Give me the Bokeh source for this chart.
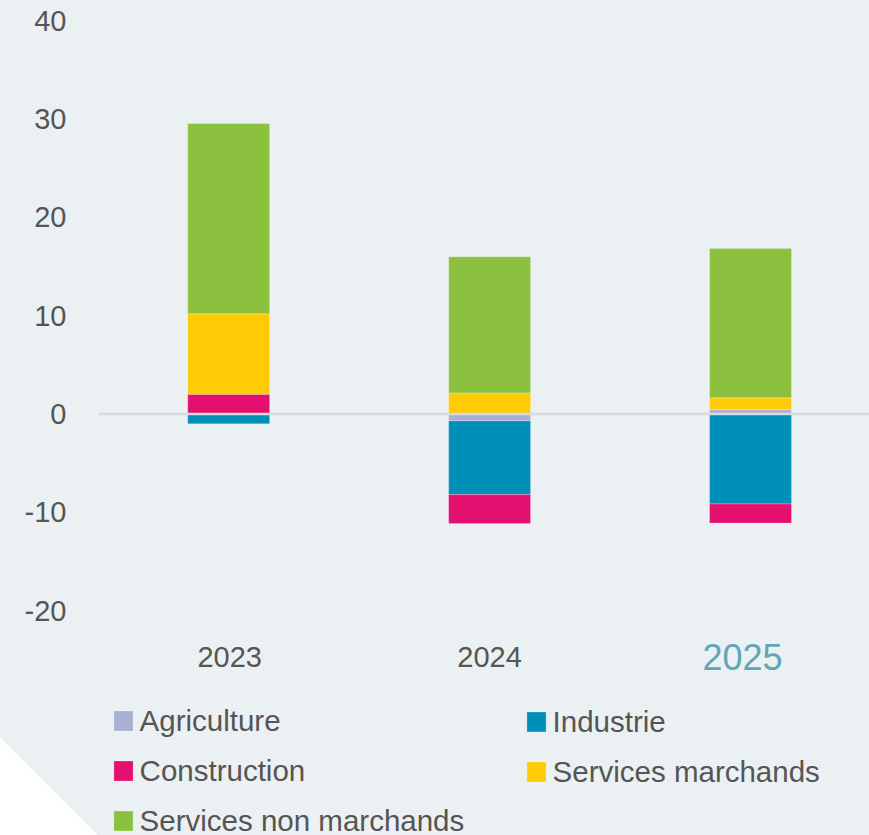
from bokeh.plotting import figure
from bokeh.models import (Range1d, FixedTicker, Span, Legend, LegendItem,
                          ColumnDataSource, InlineStyleSheet)
from bokeh.core.properties import value
from bokeh.embed import file_html
from bokeh.resources import INLINE

# ---- data ----
years = ["2023", "2024", "2025"]
agriculture = [0.0, -0.7, 0.45]
industrie = [-1.0, -7.5, -9.15]
construction = [2.0, -2.95, -1.95]
services_marchands = [8.2, 2.15, 1.2]
services_non_marchands = [19.35, 13.85, 15.2]
series_names = ["Agriculture", "Industrie", "Construction",
                "Services marchands", "Services non marchands"]
y_ticks = [-20, -10, 0, 10, 20, 30, 40]
y_tick_labels = {t: str(t) for t in y_ticks}

# ---- style ----
colors = ["#a8b1d4", "#008fb8", "#e4106f", "#ffcb05", "#8bc13f"]
BG = "#ebf0f3"
TXT = "#555555"
FONT = "Liberation Sans"

series = [agriculture, industrie, construction, services_marchands,
          services_non_marchands]
xs = list(range(len(years)))

p = figure(width=869, height=835, output_backend="svg", toolbar_location=None,
           x_range=Range1d(-0.499, 2.456), y_range=Range1d(-42.88, 42.07),
           x_axis_location=None, min_border_left=98, min_border_right=0,
           min_border_top=0, min_border_bottom=0)
p.background_fill_alpha = 0
p.border_fill_alpha = 0
p.stylesheets = [InlineStyleSheet(css=(
    ":host { background: linear-gradient(45deg, #ffffff 69px, %s 69px); }" % BG))]
p.outline_line_color = None
p.grid.visible = False

ax = p.yaxis[0]
ax.ticker = FixedTicker(ticks=y_ticks)
ax.major_label_overrides = y_tick_labels
ax.axis_line_color = None
ax.major_tick_line_color = None
ax.minor_tick_line_color = None
ax.major_label_standoff = 26
ax.major_label_text_font = FONT
ax.major_label_text_font_size = "29px"
ax.major_label_text_color = TXT

pos = [0.0] * len(years)
neg = [0.0] * len(years)
renderers = []
for vals, col in zip(series, colors):
    bottoms, tops = [], []
    for i, v in enumerate(vals):
        if v >= 0:
            bottoms.append(pos[i]); tops.append(pos[i] + v); pos[i] += v
        else:
            bottoms.append(neg[i]); tops.append(neg[i] + v); neg[i] += v
    r = p.vbar(x=xs, bottom=bottoms, top=tops, width=0.314, fill_color=col,
               line_color="white", line_alpha=0.25, line_width=1)
    renderers.append(r)

p.add_layout(Span(location=0, dimension="width", line_color="#d6dbdf",
                  line_width=2.4))

# category labels
lab_src = ColumnDataSource(dict(x=xs, y=[-24.67] * len(years), text=years,
                                color=[TXT, TXT, "#5fa7b7"],
                                size=["29px", "29px", "36px"],
                                dx=[1, 0, -8]))
p.text(x="x", y="y", text="text", source=lab_src, text_color="color",
       text_font_size="size", text_font=value(FONT), text_align="center",
       text_baseline="middle", x_offset="dx")


def make_legend(idx, loc):
    lg = Legend(items=[LegendItem(label=series_names[i], renderers=[renderers[i]])
                       for i in idx],
                location=loc, orientation="vertical")
    lg.background_fill_alpha = 0
    lg.border_line_color = None
    lg.padding = 0
    lg.margin = 0
    lg.spacing = 16
    lg.glyph_width = 24
    lg.glyph_height = 25
    lg.label_height = 33
    lg.label_standoff = 5
    lg.label_text_font = FONT
    lg.label_text_font_size = "29.5px"
    lg.label_text_color = TXT
    return lg


p.add_layout(make_legend([0, 2, 4], (12.6, -2.5)))
p.add_layout(make_legend([1, 3], (425.6, 46.5)))

open("out.html", "w").write(file_html(p, INLINE))
